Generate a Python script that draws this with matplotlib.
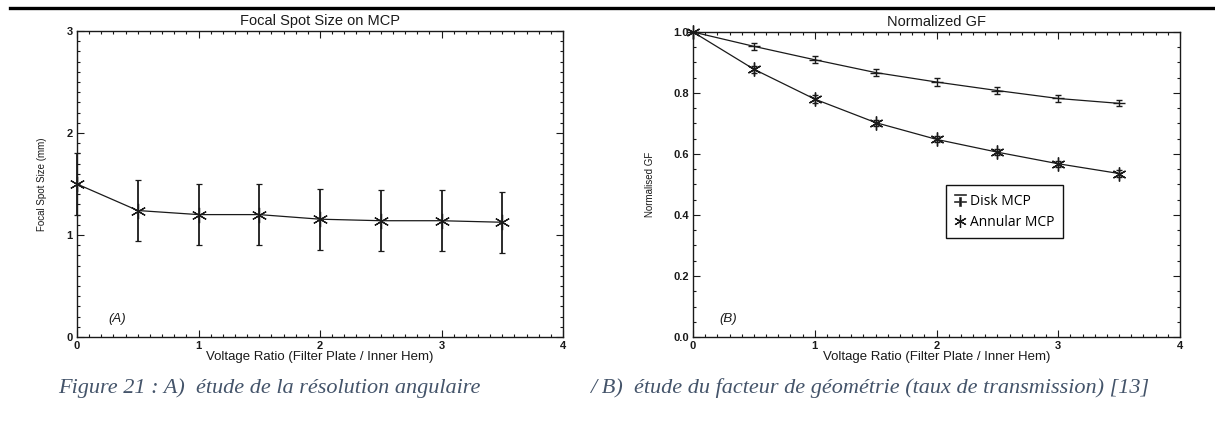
import matplotlib
matplotlib.use("Agg")
import matplotlib.pyplot as plt
from matplotlib.ticker import MultipleLocator, FormatStrFormatter
from matplotlib.lines import Line2D

# ---------------- data ----------------
voltage_ratio = [0.0, 0.5, 1.0, 1.5, 2.0, 2.5, 3.0, 3.5]
focal_spot = [1.50, 1.24, 1.20, 1.20, 1.155, 1.14, 1.14, 1.125]
focal_err = [0.30, 0.30, 0.30, 0.30, 0.30, 0.30, 0.30, 0.30]

gf_disk = [1.0, 0.953, 0.909, 0.867, 0.836, 0.808, 0.782, 0.766]
gf_disk_err = [0.0, 0.012, 0.012, 0.012, 0.012, 0.012, 0.010, 0.010]
gf_annular = [1.0, 0.878, 0.780, 0.703, 0.648, 0.606, 0.568, 0.536]
gf_annular_err = [0.0, 0.012, 0.012, 0.010, 0.010, 0.010, 0.010, 0.010]

title_a = "Focal Spot Size on MCP"
title_b = "Normalized GF"
xlabel = "Voltage Ratio (Filter Plate / Inner Hem)"
ylabel_a = "Focal Spot Size (mm)"
ylabel_b = "Normalised GF"
legend_labels = ["Disk MCP", "Annular MCP"]
caption_a = "Figure 21 : A)  étude de la résolution angulaire"
caption_b = "/ B)  étude du facteur de géométrie (taux de transmission) [13]"

# ---------------- figure ----------------
W, H = 1215, 423
fig = plt.figure(figsize=(W / 100, H / 100), dpi=100)
fig.patch.set_facecolor("white")

plt.rcParams["font.family"] = ["Liberation Sans", "DejaVu Sans"]

def px_axes(x0, y0, x1, y1):
    return fig.add_axes([x0 / W, 1 - y1 / H, (x1 - x0) / W, (y1 - y0) / H])

axA = px_axes(77, 31, 563, 337)
axB = px_axes(693, 32, 1180, 337)

star = (6, 2, 0)
ink = "#1a1a1a"

def style(ax, ymax, ymajor, yminor, fmt):
    ax.set_xlim(0, 4)
    ax.set_ylim(0, ymax)
    ax.xaxis.set_major_locator(MultipleLocator(1))
    ax.xaxis.set_minor_locator(MultipleLocator(0.1))
    ax.yaxis.set_major_locator(MultipleLocator(ymajor))
    ax.yaxis.set_minor_locator(MultipleLocator(yminor))
    ax.yaxis.set_major_formatter(FormatStrFormatter(fmt))
    ax.tick_params(which="both", direction="in", top=True, right=True,
                   labelsize=8, width=0.8, colors=ink, pad=3)
    ax.tick_params(which="major", length=5)
    ax.tick_params(which="minor", length=2.5)
    for s in ax.spines.values():
        s.set_linewidth(1.0)
        s.set_color(ink)
    for lab in ax.get_xticklabels() + ax.get_yticklabels():
        lab.set_fontweight("bold")
    ax.set_xlabel(xlabel, fontsize=9.5, labelpad=0, color=ink)

# ---- panel A ----
axA.errorbar(voltage_ratio, focal_spot, yerr=focal_err, color=ink,
             lw=0.9, elinewidth=1.3, capsize=2, capthick=1.0,
             marker=star, ms=11, mew=0.9, clip_on=False)
style(axA, 3, 1, 0.1, "%d")
axA.set_title(title_a, fontsize=10.5, pad=4, color=ink)
axA.set_ylabel(ylabel_a, fontsize=7, labelpad=14, color=ink)
axA.text(0.33, 0.18, "(A)", fontsize=9.5, style="italic", color=ink,
         ha="center", va="center")

# ---- panel B ----
axB.errorbar(voltage_ratio, gf_disk, yerr=gf_disk_err, color=ink,
             lw=0.9, elinewidth=1.0, capsize=2.5, capthick=0.9,
             marker="_", ms=8, mew=1.0, clip_on=False)
axB.errorbar(voltage_ratio, gf_annular, yerr=gf_annular_err, color=ink,
             lw=0.9, elinewidth=1.0, capsize=2.5, capthick=0.9,
             marker=star, ms=10, mew=1.0, clip_on=False)
style(axB, 1.0, 0.2, 0.05, "%.1f")
axB.set_title(title_b, fontsize=10.5, pad=4, color=ink)
axB.set_ylabel(ylabel_b, fontsize=7, labelpad=13, color=ink)
axB.text(0.29, 0.06, "(B)", fontsize=9.5, style="italic", color=ink,
         ha="center", va="center")

h_disk = Line2D([], [], color=ink, marker="$\u2213$", ls="none", ms=9, mew=0.4)
h_ann = Line2D([], [], color=ink, marker=star, ls="none", ms=9, mew=0.9)
leg = axB.legend([h_disk, h_ann], legend_labels, loc="upper left",
                 bbox_to_anchor=(0.52, 0.497), borderaxespad=0, frameon=True,
                 fancybox=False, edgecolor="#111111", framealpha=1,
                 handlelength=0.8, handletextpad=0.3, borderpad=0.6,
                 labelspacing=0.45,
                 prop={"family": ["Open Sans", "DejaVu Sans"], "size": 10})
leg.get_frame().set_linewidth(1.0)

# ---- page rule and caption ----
fig.add_artist(Line2D([10 / W, 1.0], [1 - 8.5 / H, 1 - 8.5 / H], color="black", lw=2.4))
cap_color = "#44546A"
fig.text(58 / W, 1 - 388 / H, caption_a, fontsize=16, style="italic",
         family=["Liberation Serif", "DejaVu Serif"], color=cap_color, va="center")
fig.text(590 / W, 1 - 388 / H, caption_b, fontsize=16, style="italic",
         family=["Liberation Serif", "DejaVu Serif"], color=cap_color, va="center")

fig.savefig("out.png", dpi=100, facecolor="white")
